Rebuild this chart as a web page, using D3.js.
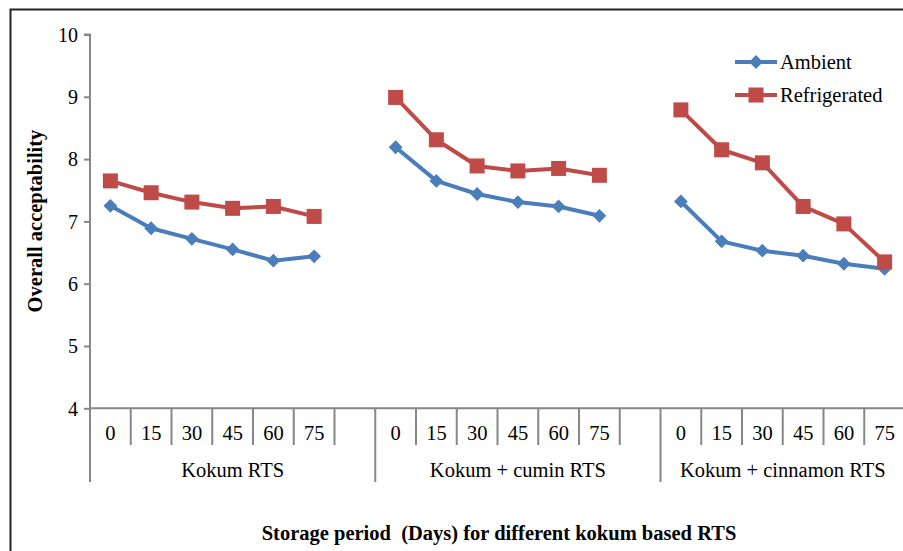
<!DOCTYPE html>
<html>
<head>
<meta charset="utf-8">
<script src="https://cdn.jsdelivr.net/npm/d3@7/dist/d3.min.js"></script>
<style>
  html, body { margin: 0; padding: 0; background: #fff; }
  svg { display: block; }
  text { font-family: "Liberation Serif", "Times New Roman", serif; fill: #000; }
</style>
</head>
<body>
<svg id="chart" width="903" height="551"></svg>
<script>
// ---- Data ----
const groups = ["Kokum RTS", "Kokum + cumin RTS", "Kokum + cinnamon RTS"];
const days = ["0", "15", "30", "45", "60", "75"];
const ambient = [
  [7.25, 6.89, 6.72, 6.55, 6.37, 6.44],
  [8.19, 7.65, 7.44, 7.31, 7.24, 7.09],
  [7.32, 6.68, 6.53, 6.45, 6.32, 6.24]
];
const refrigerated = [
  [7.65, 7.46, 7.31, 7.21, 7.24, 7.08],
  [8.99, 8.31, 7.89, 7.81, 7.85, 7.74],
  [8.79, 8.15, 7.94, 7.24, 6.96, 6.35]
];
const yTicks = [4, 5, 6, 7, 8, 9, 10];
const seriesNames = ["Ambient", "Refrigerated"];
const colors = ["#4A7EBB", "#BE4B48"];

// ---- Layout ----
const svg = d3.select("#chart");
const pLeft = 90, pRight = 905, pTop = 34.5, pBottom = 408.3;
const fs = 20.5;

// slots: each group has its days; first two groups followed by a blank slot
const slots = [];
groups.forEach((g, gi) => {
  days.forEach(d => slots.push(g + "|" + d));
  if (gi < groups.length - 1) slots.push(g + "|");
});

const x = d3.scaleBand().domain(slots).range([pLeft, pRight]).padding(0);
const y = d3.scaleLinear().domain([4, 10]).range([pBottom, pTop]);
const axisColor = "#878787";

// frame
svg.append("path")
  .attr("d", `M10.5,560 V9.5 H910`)
  .attr("fill", "none").attr("stroke", "#222").attr("stroke-width", 2);

// Y axis
const yAxis = d3.axisLeft(y).tickValues(yTicks).tickSize(6).tickPadding(6).tickFormat(d3.format("d"));
const yg = svg.append("g").attr("transform", `translate(${pLeft},0)`).call(yAxis);
yg.attr("font-family", null);
yg.select(".domain").attr("stroke", axisColor).attr("stroke-width", 2).attr("d", `M-6,${pTop}H0V${pBottom}`);
yg.selectAll(".tick line").attr("stroke", axisColor).attr("stroke-width", 2);
yg.selectAll(".tick text").attr("font-size", 20).attr("fill", "#000").attr("dy", "0.34em");

// X axis line
svg.append("line").attr("x1", pLeft).attr("x2", 910).attr("y1", pBottom).attr("y2", pBottom)
  .attr("stroke", axisColor).attr("stroke-width", 2);

// slot separators
const xg = svg.append("g");
slots.forEach((s, i) => {
  const xl = x(s);
  const isGroupStart = s.endsWith("|0");
  xg.append("line").attr("x1", xl).attr("x2", xl).attr("y1", pBottom)
    .attr("y2", isGroupStart ? 482 : 445)
    .attr("stroke", axisColor).attr("stroke-width", 2);
  const label = s.split("|")[1];
  if (label !== "") {
    xg.append("text").attr("x", xl + x.bandwidth() / 2).attr("y", 433)
      .attr("text-anchor", "middle").attr("dominant-baseline", "central")
      .attr("font-size", fs).text(label);
  }
});
const lastEnd = x(slots[slots.length - 1]) + x.bandwidth();
xg.append("line").attr("x1", lastEnd).attr("x2", lastEnd)
  .attr("y1", pBottom).attr("y2", 482).attr("stroke", axisColor).attr("stroke-width", 2);

// group labels
groups.forEach((g, gi) => {
  const x0 = x(g + "|0");
  const x1 = gi < groups.length - 1 ? x(g + "|") + x.bandwidth() : x(g + "|75") + x.bandwidth();
  xg.append("text").attr("x", (x0 + x1) / 2).attr("y", 470)
    .attr("text-anchor", "middle").attr("dominant-baseline", "central")
    .attr("font-size", fs).text(g);
});

// axis titles
svg.append("text").attr("transform", `translate(35,221) rotate(-90)`)
  .attr("text-anchor", "middle").attr("dominant-baseline", "central")
  .attr("font-size", fs).attr("font-weight", "bold").text("Overall acceptability");
svg.append("text").attr("x", 499).attr("y", 533)
  .attr("text-anchor", "middle").attr("dominant-baseline", "central")
  .attr("font-size", fs).attr("font-weight", "bold").attr("xml:space", "preserve")
  .style("white-space", "pre")
  .text("Storage period  (Days) for different kokum based RTS");

// ---- Series ----
const line = d3.line().x(d => d[0]).y(d => d[1]);
const allSeries = [ambient, refrigerated];
allSeries.forEach((data, si) => {
  const g = svg.append("g");
  data.forEach((vals, gi) => {
    const pts = vals.map((v, di) => [x(groups[gi] + "|" + days[di]) + x.bandwidth() / 2, y(v)]);
    g.append("path").attr("d", line(pts)).attr("fill", "none")
      .attr("stroke", colors[si]).attr("stroke-width", 4).attr("stroke-linejoin", "round");
    pts.forEach(p => {
      if (si === 0) {
        g.append("path").attr("d", d3.symbol().type(d3.symbolSquare).size(95)())
          .attr("transform", `translate(${p[0]},${p[1]}) rotate(45)`)
          .attr("fill", colors[si]);
      } else {
        g.append("rect").attr("x", p[0] - 7.5).attr("y", p[1] - 7.5).attr("width", 15).attr("height", 15)
          .attr("fill", colors[si]);
      }
    });
  });
});

// ---- Legend ----
const lg = svg.append("g");
[62, 95].forEach((ly, i) => {
  lg.append("line").attr("x1", 735).attr("x2", 777).attr("y1", ly).attr("y2", ly)
    .attr("stroke", colors[i]).attr("stroke-width", 4);
  if (i === 0) {
    lg.append("path").attr("d", d3.symbol().type(d3.symbolSquare).size(95)())
      .attr("transform", `translate(756,${ly}) rotate(45)`).attr("fill", colors[i]);
  } else {
    lg.append("rect").attr("x", 748.5).attr("y", ly - 7.5).attr("width", 15).attr("height", 15).attr("fill", colors[i]);
  }
  lg.append("text").attr("x", 780).attr("y", ly).attr("dominant-baseline", "central")
    .attr("font-size", fs).text(seriesNames[i]);
});
</script>
</body>
</html>
